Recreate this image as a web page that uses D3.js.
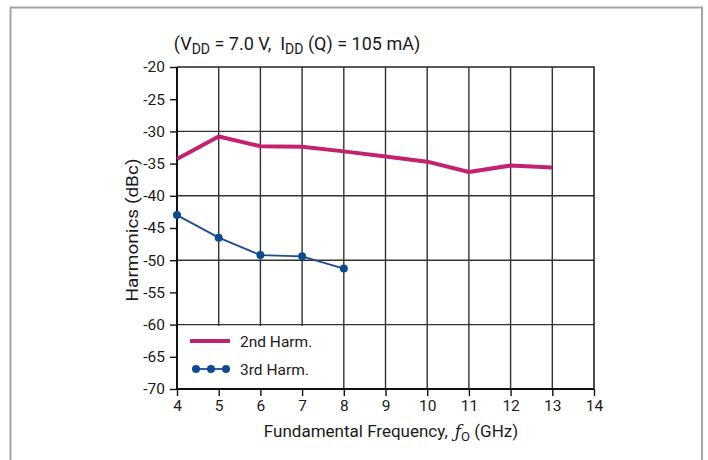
<!DOCTYPE html>
<html>
<head>
<meta charset="utf-8">
<script src="https://cdn.jsdelivr.net/npm/d3@7"></script>
<style>
  html, body { margin: 0; padding: 0; background: #fff; }
  svg { display: block; }
  text { font-family: "Roboto", "Liberation Sans", sans-serif; fill: #1a1a1a; white-space: pre; }
</style>
</head>
<body>
<svg id="chart" width="708" height="460"></svg>
<script>
// Harmonic levels versus fundamental frequency
const freqs2 = [4, 5, 6, 7, 8, 9, 10, 11, 12, 13];
const harm2 = [-34.3, -30.8, -32.3, -32.4, -33.1, -33.9, -34.7, -36.3, -35.3, -35.6];
const freqs3 = [4, 5, 6, 7, 8];
const harm3 = [-43.0, -46.5, -49.2, -49.4, -51.3];
const xTicks = [4, 5, 6, 7, 8, 9, 10, 11, 12, 13, 14];
const yTicks = [-20, -25, -30, -35, -40, -45, -50, -55, -60, -65, -70];
const yGrid = [-30, -40, -50, -60];
const seriesNames = ["2nd Harm.", "3rd Harm."];

const svg = d3.select("#chart");
const plotL = 177, plotR = 594, plotT = 67, plotB = 389;

const x = d3.scaleLinear().domain([4, 14]).range([plotL, plotR]);
const y = d3.scaleLinear().domain([-70, -20]).range([plotB, plotT]);

// outer frame
svg.append("rect")
  .attr("x", 10.5).attr("y", 7.5).attr("width", 691.5).attr("height", 470)
  .attr("fill", "none").attr("stroke", "#a4a4a4").attr("stroke-width", 2);

// grid
const grid = svg.append("g");
grid.selectAll("line.v").data(xTicks.slice(1, -1)).join("line")
  .attr("x1", d => x(d)).attr("x2", d => x(d))
  .attr("y1", y(-20)).attr("y2", y(-70))
  .attr("stroke", "#333").attr("stroke-width", 1.4);
grid.selectAll("line.h").data(yGrid).join("line")
  .attr("x1", plotL).attr("x2", plotR)
  .attr("y1", d => y(d)).attr("y2", d => y(d))
  .attr("stroke", "#333").attr("stroke-width", 1.4);

// plot border (top and right)
svg.append("path")
  .attr("d", `M${plotL},${y(-20)}H${plotR}V${y(-70)}`)
  .attr("fill", "none").attr("stroke", "#222").attr("stroke-width", 1.6);

// axes
const yAxis = d3.axisLeft(y).tickValues(yTicks).tickSize(7).tickPadding(5).tickFormat(d3.format("d"));
const xAxis = d3.axisBottom(x).tickValues(xTicks).tickSize(7).tickPadding(4).tickFormat(d3.format("d"));

const gy = svg.append("g").attr("transform", `translate(${plotL},0)`).call(yAxis);
const gx = svg.append("g").attr("transform", `translate(0,${plotB})`).call(xAxis);
[gx, gy].forEach(g => {
  g.select(".domain").attr("stroke", "#111").attr("stroke-width", 2);
  g.selectAll(".tick line").attr("stroke", "#111").attr("stroke-width", 1.4);
  g.selectAll(".tick text").attr("font-size", 15.5).attr("fill", "#1a1a1a")
    .style("font-family", '"Roboto", sans-serif');
});
gy.selectAll(".tick text").text(d => d < 0 ? "-" + Math.abs(d) : d);
gx.select(".domain").attr("d", `M${plotL},0H${plotR}`);
gy.select(".domain").attr("d", `M0,${y(-20)}V${y(-70)}`);

// legend background
const legend = svg.append("g");
legend.append("rect")
  .attr("x", plotL + 1.5).attr("y", y(-60) + 1.5)
  .attr("width", x(8) - plotL - 3).attr("height", y(-70) - y(-60) - 2.5)
  .attr("fill", "#fff");

// series lines
const line = d3.line().x(d => x(d[0])).y(d => y(d[1]));
svg.append("path")
  .datum(freqs2.map((f, i) => [f, harm2[i]]))
  .attr("d", line).attr("fill", "none")
  .attr("stroke", "#c2226e").attr("stroke-width", 4).attr("stroke-linejoin", "round");

const pts3 = freqs3.map((f, i) => [f, harm3[i]]);
svg.append("path")
  .datum(pts3)
  .attr("d", line).attr("fill", "none")
  .attr("stroke", "#1d4a94").attr("stroke-width", 1.8);
svg.selectAll("circle.p3").data(pts3).join("circle")
  .attr("cx", d => x(d[0])).attr("cy", d => y(d[1])).attr("r", 4)
  .attr("fill", "#0d4a94");

// legend entries
const ly1 = 341, ly2 = 369;
legend.append("line")
  .attr("x1", 190).attr("x2", 230).attr("y1", ly1).attr("y2", ly1)
  .attr("stroke", "#c2226e").attr("stroke-width", 4);
legend.append("text").attr("x", 240).attr("y", ly1 + 5.5).attr("font-size", 15.5).text(seriesNames[0]);
legend.append("line")
  .attr("x1", 196).attr("x2", 226).attr("y1", ly2).attr("y2", ly2)
  .attr("stroke", "#1d4a94").attr("stroke-width", 1.8);
legend.selectAll("circle").data([196, 211, 226]).join("circle")
  .attr("cx", d => d).attr("cy", ly2).attr("r", 4).attr("fill", "#0d4a94");
legend.append("text").attr("x", 240).attr("y", ly2 + 5.5).attr("font-size", 15.5).text(seriesNames[1]);

// title
const title = svg.append("text").attr("x", 297).attr("y", 50).attr("text-anchor", "middle").attr("font-size", 18);
title.append("tspan").text("(V");
title.append("tspan").attr("font-size", 14).attr("dy", 4).text("DD");
title.append("tspan").attr("dy", -4).text(" = 7.0 V,  I");
title.append("tspan").attr("font-size", 14).attr("dy", 4).text("DD");
title.append("tspan").attr("dy", -4).text(" (Q) = 105 mA)");

// axis titles
svg.append("text")
  .attr("transform", `translate(138,230) rotate(-90)`)
  .attr("text-anchor", "middle").attr("font-size", 17)
  .attr("textLength", 143).attr("lengthAdjust", "spacingAndGlyphs")
  .text("Harmonics (dBc)");

const xt = svg.append("text").attr("x", 391).attr("y", 437).attr("text-anchor", "middle").attr("font-size", 17);
xt.append("tspan").text("Fundamental Frequency,");
xt.append("tspan").attr("dx", 7).attr("font-style", "italic").attr("font-family", "DejaVu Serif, serif").text("ƒ");
xt.append("tspan").attr("font-size", 13).attr("dy", 4).text("O");
xt.append("tspan").attr("dy", -4).text(" (GHz)");
</script>
</body>
</html>
